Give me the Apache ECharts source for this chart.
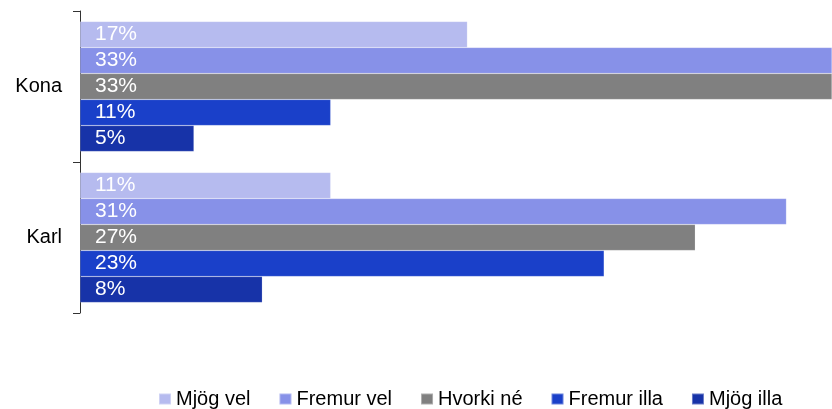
<!DOCTYPE html>
<html>
<head>
<meta charset="utf-8">
<script src="https://cdn.jsdelivr.net/npm/echarts@6/dist/echarts.min.js"></script>
<style>
  html, body { margin: 0; padding: 0; background: #fff; }
  #chart { width: 832px; height: 409px; }
</style>
</head>
<body>
<div id="chart"></div>
<script>
// Respondent groups shown on the vertical axis (top to bottom)
const categories = ['Kona', 'Karl'];

// Answer options, in legend order
const seriesNames = ['Mjög vel', 'Fremur vel', 'Hvorki né', 'Fremur illa', 'Mjög illa'];

// Share of answers (%) per group, one array per answer option
const mjogVel    = [17, 11];
const fremurVel  = [33, 31];
const hvorkiNe   = [33, 27];
const fremurIlla = [11, 23];
const mjogIlla   = [5, 8];

const seriesValues = [mjogVel, fremurVel, hvorkiNe, fremurIlla, mjogIlla];
const seriesColors = ['#b6bbef', '#8791e8', '#808080', '#1a40c9', '#1733a8'];

const FONT = 'Liberation Sans, Arial, sans-serif';

const chart = echarts.init(document.getElementById('chart'), null, { renderer: 'canvas' });

const series = seriesNames.map((name, i) => ({
  name,
  type: 'bar',
  data: seriesValues[i],
  barGap: '0%',
  barCategoryGap: '13.9%',
  clip: true,
  itemStyle: {
    color: seriesColors[i],
    borderColor: 'rgba(255,255,255,0.35)',
    borderWidth: 0.5
  },
  label: {
    show: true,
    position: 'insideLeft',
    distance: 15,
    color: '#ffffff',
    fontFamily: FONT,
    fontSize: 21,
    formatter: p => p.value + '%'
  },
  emphasis: { disabled: true }
}));

chart.setOption({
  animation: false,
  backgroundColor: '#ffffff',
  grid: { left: 80, right: 0, top: 11, bottom: 96, containLabel: false },
  legend: {
    left: 158,
    top: 389,
    padding: 0,
    itemWidth: 12,
    itemHeight: 11,
    itemGap: 28,
    icon: 'rect',
    textStyle: {
      color: '#000',
      fontFamily: FONT,
      fontSize: 20
    },
    data: seriesNames
  },
  xAxis: {
    type: 'value',
    min: 0,
    max: 33,
    show: false
  },
  yAxis: {
    type: 'category',
    data: categories,
    inverse: true,
    axisLine: { show: true, lineStyle: { color: '#333', width: 1 } },
    axisTick: { show: true, length: 7, lineStyle: { color: '#333' } },
    axisLabel: {
      color: '#000',
      margin: 18,
      fontFamily: FONT,
      fontSize: 20
    },
    splitLine: { show: false }
  },
  series
});
</script>
</body>
</html>
